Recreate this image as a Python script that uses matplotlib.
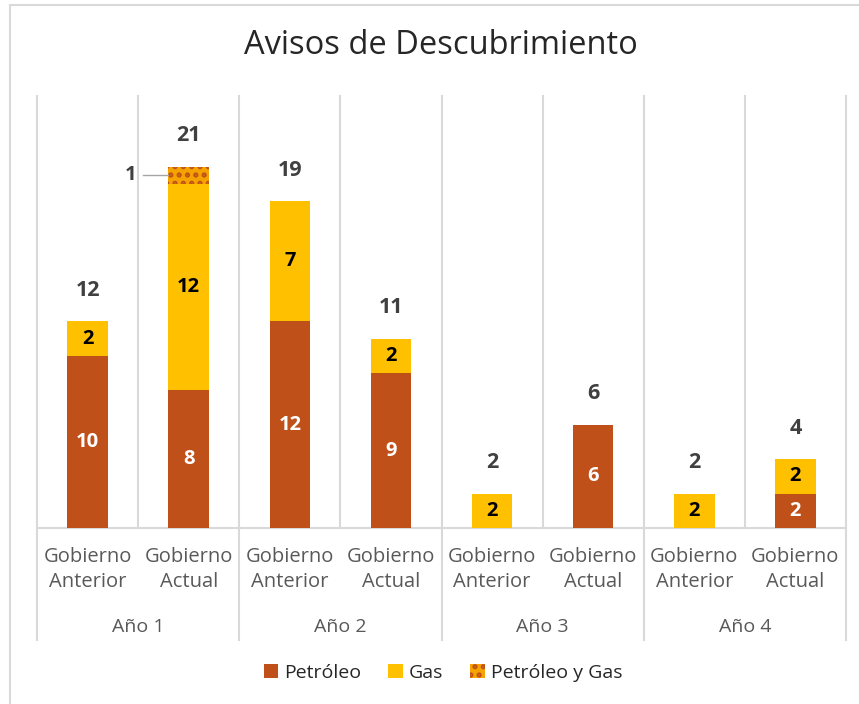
import numpy as np
import matplotlib.pyplot as plt
from matplotlib.patches import Rectangle, Patch

plt.rcParams['font.family'] = ['Open Sans', 'DejaVu Sans']
plt.rcParams['hatch.linewidth'] = 2.5

# datos
categorias = ['Gobierno\nAnterior', 'Gobierno\nActual'] * 4
anios = ['Año 1', 'Año 2', 'Año 3', 'Año 4']
petroleo = [10, 8, 12, 9, 0, 6, 0, 2]
gas = [2, 12, 7, 2, 2, 0, 2, 2]
petroleo_gas = [0, 1, 0, 0, 0, 0, 0, 0]

C_PET = '#C0501A'
C_GAS = '#FFC000'
C_GRID = '#D9D9D9'
C_TXT = '#595959'

fig = plt.figure(figsize=(8.59, 7.04), dpi=100)
fig.patches.append(Rectangle((10 / 859, -0.1), 1.2, (704 - 5) / 704 + 0.1,
                             transform=fig.transFigure, fill=False,
                             edgecolor=C_GRID, linewidth=1.5))
ax = fig.add_axes([37 / 859, 176 / 704, (846 - 37) / 859, (528 - 96) / 704])

x = np.arange(len(categorias))
pet = np.array(petroleo)
gs = np.array(gas)
pg = np.array(petroleo_gas)
w = 0.4

ax.bar(x, pet, w, color=C_PET, zorder=3, label='Petróleo')
ax.bar(x, gs, w, bottom=pet, color=C_GAS, zorder=3, label='Gas')
ax.bar(x, pg, w, bottom=pet + gs, color='#F5A300', edgecolor=C_PET,
       hatch='..', linewidth=0, zorder=3, label='Petróleo y Gas')

# etiquetas dentro de las barras
for i in x:
    if pet[i] > 0:
        ax.text(i, pet[i] / 2, str(pet[i]), ha='center', va='center',
                color='white', fontsize=14.5, fontweight='bold', zorder=4)
    if gs[i] > 0:
        ax.text(i, pet[i] + gs[i] / 2, str(gs[i]), ha='center', va='center',
                color='black', fontsize=14.5, fontweight='bold', zorder=4)
    if pg[i] > 0:
        y = pet[i] + gs[i] + pg[i] / 2
        ax.plot([i - 0.45, i - w / 2], [y, y], color='#A6A6A6', lw=1, zorder=4)
        ax.text(i - 0.52, y, str(pg[i]), ha='right', va='center',
                color='#404040', fontsize=14.5, fontweight='bold')
    total = pet[i] + gs[i] + pg[i]
    ax.text(i, total + 1.8, str(total), ha='center', va='center',
            color='#404040', fontsize=15.5, fontweight='bold')

ax.set_xlim(-0.5, len(x) - 0.5)
ax.set_ylim(0, 25.1)
ax.set_yticks([])
ax.set_xticks(x)
ax.set_xticklabels(categorias, fontsize=14.5, color=C_TXT, linespacing=1.3)
ax.tick_params(axis='x', length=0, pad=14)
for s in ['top', 'left', 'right']:
    ax.spines[s].set_visible(False)
ax.spines['bottom'].set_color(C_GRID)
ax.spines['bottom'].set_linewidth(1.5)

# lineas verticales
trans = ax.get_xaxis_transform()
for b in np.arange(-0.5, len(x), 1.0):
    bottom = -0.259 if (b + 0.5) % 2 == 0 else 0
    ax.plot([b, b], [bottom, 1], color=C_GRID, lw=1.5, transform=trans,
            clip_on=False, zorder=1)

for k, a in enumerate(anios):
    ax.text(2 * k + 0.5, -0.229, a, transform=trans, ha='center', va='center',
            fontsize=14, color=C_TXT)

fig.text(441 / 859, 1 - 45 / 704, 'Avisos de Descubrimiento', ha='center',
         va='center', fontsize=23.5, color='#262626')

handles = [Patch(facecolor=C_PET), Patch(facecolor=C_GAS),
           Patch(facecolor='#F5A300', edgecolor=C_PET, hatch='..', linewidth=0)]
fig.legend(handles, ['Petróleo', 'Gas', 'Petróleo y Gas'], loc='center',
           bbox_to_anchor=(443 / 859, 1 - 673 / 704), ncol=3, frameon=False,
           fontsize=14, handlelength=0.75, handleheight=0.75, handletextpad=0.3,
           columnspacing=1.4, labelcolor='#262626')

fig.savefig('out.png', dpi=100)
